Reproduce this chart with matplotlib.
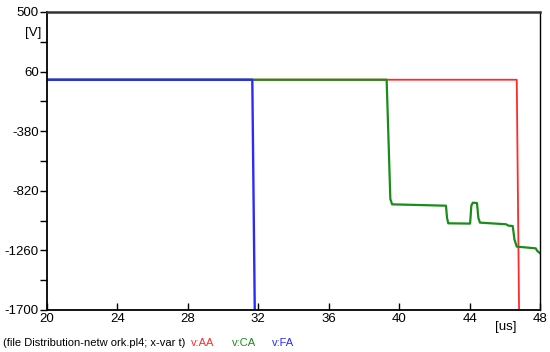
import matplotlib
matplotlib.use("Agg")
import matplotlib.pyplot as plt
import numpy as np

plt.rcParams['font.family'] = ['Liberation Sans', 'DejaVu Sans']
plt.rcParams['axes.unicode_minus'] = False

# v:AA (red)
t_aa = [20.0, 46.68, 46.81]
v_aa = [0.0, 0.0, -1700.0]
# v:CA (green)
t_ca = [20.0, 39.29, 39.5, 39.6, 42.66, 42.72, 42.79, 44.03, 44.1, 44.18, 44.42, 44.5, 44.59,
        46.07, 46.2, 46.45, 46.55, 46.68, 47.76, 47.85, 48.0]
v_ca = [0.0, 0.0, -880.0, -920.0, -930.0, -1020.0, -1060.0, -1062.0, -930.0, -908.0, -910.0, -1020.0, -1055.0,
        -1067.0, -1077.0, -1080.0, -1180.0, -1232.0, -1245.0, -1265.0, -1280.0]
# v:FA (blue)
t_fa = [20.0, 31.66, 31.8]
v_fa = [0.0, 0.0, -1700.0]

yticks = [500, 60, -380, -820, -1260, -1700]
yminor = [280, -160, -600, -1040, -1480]
xticks = [20, 24, 28, 32, 36, 40, 44, 48]

fig = plt.figure(figsize=(5.5, 3.52), dpi=100)
ax = fig.add_axes([47/550, 1-310/352, 493/550, 298/352])

ax.plot(t_aa, v_aa, color='#ff2a2a', lw=1.3)
ax.plot(t_ca, v_ca, color='#1a8c1a', lw=1.6)
ax.plot(t_fa, v_fa, color='#2a2aff', lw=1.7)

ax.set_xlim(20, 48)
ax.set_ylim(-1700, 500)
ax.set_yticks(yticks)
ax.set_yticks(yminor, minor=True)
ax.set_xticks(xticks)
ax.tick_params(axis='y', which='both', direction='out', length=5, width=1, labelsize=9.5, pad=1)
ax.tick_params(axis='x', direction='in', length=5, width=1, labelsize=9.5, pad=2)
for s in ['left', 'bottom']:
    ax.spines[s].set_linewidth(1.3)
    ax.spines[s].set_color('black')
ax.spines['top'].set_linewidth(1.8)
ax.spines['top'].set_color('#333333')
ax.spines['right'].set_linewidth(1.0)
ax.spines['right'].set_color('black')

fig.text(33/550, 1-33/352, '[V]', fontsize=9.5, ha='center', va='center')
fig.text(506/550, 1-327/352, '[us]', fontsize=9.5, ha='center', va='center')

y_leg = 1 - 343/352
fig.text(3/550, y_leg, '(file Distribution-netw ork.pl4; x-var t)', fontsize=8, ha='left', va='center')
fig.text(191/550, y_leg, 'v:AA', fontsize=8, color='#ff2a2a', ha='left', va='center')
fig.text(232/550, y_leg, 'v:CA', fontsize=8, color='#1a8c1a', ha='left', va='center')
fig.text(272/550, y_leg, 'v:FA', fontsize=8, color='#2a2aff', ha='left', va='center')

fig.savefig('out.png', dpi=100)
